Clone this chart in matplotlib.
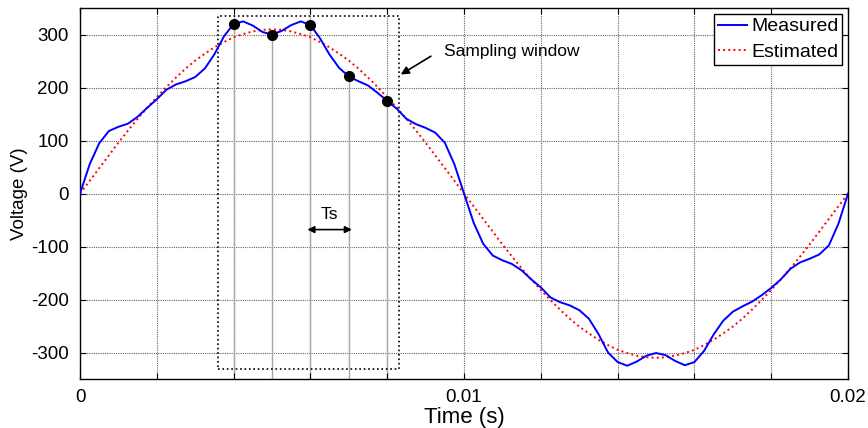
import numpy as np
import matplotlib
matplotlib.use('Agg')
import matplotlib.pyplot as plt

plt.rcParams['font.family'] = ['Liberation Sans', 'DejaVu Sans']

# ==================== 数据 ====================
# time axis, 0.25 ms step over one 50 Hz period
t_step = 0.00025
n_pts = 81

# measured waveform (V)
measured = [
    0, 55, 95, 118, 126, 132, 145, 162, 178, 196,
    206, 212, 220, 236, 263, 297, 320, 325, 317, 305,
    300, 307, 318, 325, 318, 293, 262, 237, 221, 212,
    204, 190, 175, 160, 141, 131, 124, 115, 96, 55,
    0, -55, -95, -117, -126, -133, -145, -162, -177, -196,
    -205, -211, -220, -236, -265, -300, -318, -325, -317, -306,
    -301, -305, -316, -324, -318, -297, -266, -240, -223, -213,
    -204, -192, -178, -162, -142, -130, -123, -115, -98, -57,
    0,
]

# estimated fundamental (V)
estimated = [
    0, 24, 48, 72, 96, 119, 141, 162, 182, 201,
    219, 236, 251, 264, 276, 286, 295, 301, 306, 309,
    310, 309, 306, 301, 295, 286, 276, 264, 251, 236,
    219, 201, 182, 162, 141, 119, 96, 72, 48, 24,
    0, -24, -48, -72, -96, -119, -141, -162, -182, -201,
    -219, -236, -251, -264, -276, -286, -295, -301, -306, -309,
    -310, -309, -306, -301, -295, -286, -276, -264, -251, -236,
    -219, -201, -182, -162, -141, -119, -96, -72, -48, -24,
    0,
]

# samples inside the window
sample_t = [0.004, 0.005, 0.006, 0.007, 0.008]
sample_v = [320, 300, 318, 222, 175]

# sampling window box (t0, t1, v0, v1)
win_t = [0.0036, 0.0083]
win_v = [-331, 336]

t = np.arange(n_pts) * t_step

fig = plt.figure(figsize=(8.68, 4.28), dpi=100)
ax = fig.add_axes([0.0922, 0.1145, 0.8848, 0.8665])

# grid (MATLAB style dotted)
xt = np.arange(0, 0.0201, 0.002)
yt = np.arange(-300, 301, 100)
for x in xt[1:-1]:
    ax.axvline(x, color='0.4', linestyle=(0, (1, 1)), linewidth=0.8, zorder=0)
for y in yt:
    ax.axhline(y, color='0.4', linestyle=(0, (1, 1)), linewidth=0.8, zorder=0)

# sample stems
ax.vlines(sample_t, -350, sample_v, color='0.65', linewidth=1.0, zorder=1)

ax.plot(t, measured, color='#0000ff', linewidth=1.4, label='Measured', zorder=3)
ax.plot(t, estimated, color='#ff0000', linestyle=':', linewidth=1.4,
        label='Estimated', zorder=2)
ax.plot(sample_t, sample_v, 'o', color='black', markersize=7, zorder=4)

# window box
ax.plot([win_t[0], win_t[1], win_t[1], win_t[0], win_t[0]],
        [win_v[0], win_v[0], win_v[1], win_v[1], win_v[0]],
        color='black', linestyle=':', linewidth=1.2, zorder=2)

ax.annotate('', xy=(0.00829, 222), xytext=(0.0092, 262),
            arrowprops=dict(arrowstyle='-|>', color='black', lw=1.2,
                            mutation_scale=12))
ax.text(0.00947, 268, 'Sampling window', fontsize=12.5, va='center', ha='left')

ax.annotate('', xy=(0.00592, -68), xytext=(0.00708, -68),
            arrowprops=dict(arrowstyle='<|-|>', color='black', lw=1.2,
                            mutation_scale=10, shrinkA=0, shrinkB=0))
ax.text(0.0065, -40, 'Ts', fontsize=12.5, va='center', ha='center')

ax.set_xlim(0, 0.02)
ax.set_ylim(-350, 350)
ax.set_xticks(xt)
ax.set_xticklabels(['0' if i == 0 else ('0.01' if i == 5 else ('0.02' if i == 10 else ''))
                    for i in range(len(xt))])
ax.set_yticks(yt)
ax.set_yticklabels([str(int(v)) for v in yt])
ax.tick_params(direction='in', top=True, right=True, length=4, labelsize=13.5,
               width=0.8)
ax.tick_params(axis='x', pad=7)
ax.tick_params(axis='y', pad=8)
for s in ax.spines.values():
    s.set_linewidth(1.0)

ax.set_xlabel('Time (s)', fontsize=16, labelpad=1)
ax.set_ylabel('Voltage (V)', fontsize=13.5, labelpad=2)

leg = ax.legend(loc='upper right', fontsize=14, handlelength=1.5,
                handletextpad=0.2, labelspacing=0.4, borderpad=0.2,
                borderaxespad=0.3, fancybox=False, framealpha=1,
                edgecolor='black')
leg.get_frame().set_linewidth(1.0)

fig.savefig('out.png', dpi=100)
